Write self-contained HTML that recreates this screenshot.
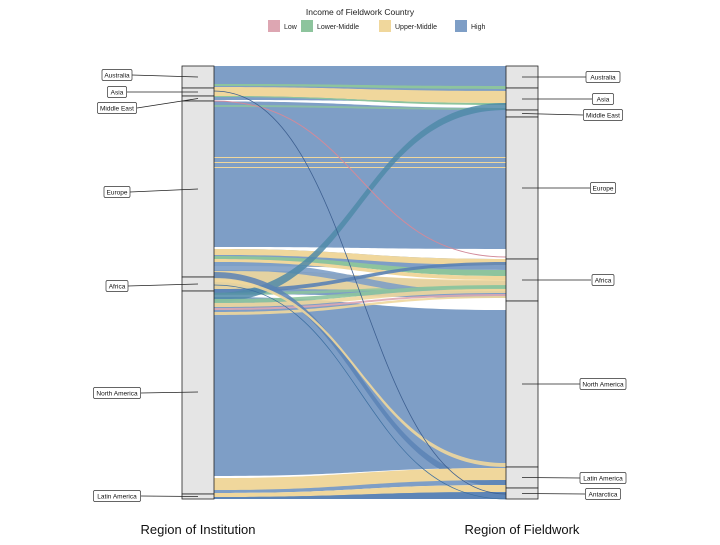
<!DOCTYPE html>
<html><head><meta charset="utf-8"><style>
body{margin:0;background:#fff;width:720px;height:540px;overflow:hidden;font-family:"Liberation Sans",sans-serif}
</style></head><body>
<svg id="s" width="720" height="540" xmlns="http://www.w3.org/2000/svg" font-family="Liberation Sans, sans-serif">
<text x="360" y="15" font-size="8.5" text-anchor="middle" fill="#222">Income of Fieldwork Country</text>
<rect x="268" y="20" width="12" height="12" fill="#dda6b2"/><text x="284" y="29" font-size="7" fill="#222">Low</text>
<rect x="301" y="20" width="12" height="12" fill="#8dc49d"/><text x="317" y="29" font-size="7" fill="#222">Lower-Middle</text>
<rect x="379" y="20" width="12" height="12" fill="#f0d79c"/><text x="395" y="29" font-size="7" fill="#222">Upper-Middle</text>
<rect x="455" y="20" width="12" height="12" fill="#7e9ec6"/><text x="471" y="29" font-size="7" fill="#222">High</text>
<g id="flows"></g>
<g id="strata"></g>
<text x="198" y="534" font-size="13" text-anchor="middle" fill="#111">Region of Institution</text>
<text x="522" y="534" font-size="13" text-anchor="middle" fill="#111">Region of Fieldwork</text>
</svg>
<script>
var NS="http://www.w3.org/2000/svg";
var C={b:"#7e9ec6",y:"#f0d79c",g:"#8dc49d",p:"#dda6b2",w:"#ffffff",t:"#4f8aa8",d:"#5a82b5"};
function rib(c,y0,y1,z0,z1,op){
 var p=document.createElementNS(NS,"path");
 p.setAttribute("d","M214,"+y0+" C360,"+y0+" 360,"+z0+" 506,"+z0+" L506,"+z1+" C360,"+z1+" 360,"+y1+" 214,"+y1+" Z");
 p.setAttribute("fill",C[c]);if(op)p.setAttribute("fill-opacity",op);
 document.getElementById("flows").appendChild(p);
}
function line(c,y,z,w){
 var p=document.createElementNS(NS,"path");
 p.setAttribute("d","M214,"+y+" C360,"+y+" 360,"+z+" 506,"+z);
 p.setAttribute("fill","none");p.setAttribute("stroke",c);p.setAttribute("stroke-width",w||0.8);
 document.getElementById("flows").appendChild(p);
}
rib("b",66,499,66,499);
rib("w",100,101.5,102,108);
rib("w",247,249,249,259);
rib("w",266,270,270,281);
rib("w",294,297,298,310);
rib("w",476,479,468,477);
rib("w",493,494,485,488);
rib("g",84,86,86,89);
rib("y",87,96,91,103);
rib("g",96,97,103,105);
rib("g",105,107,108,110,0.8);
rib("y",157,158,157,158);rib("y",162,163,162,163);rib("y",167,168,167,168);
rib("y",249,255,259,265);
rib("g",256,259,270,276);
rib("y",259,262,276,280);
rib("y",271,289,280,291,0.9);
rib("g",292,295,286,288,0.85);
rib("b",262,270,292,298,0.9);
rib("d",289,293,262,265,0.9);
rib("t",293,302,103,110,0.85);
rib("g",299,303,285,289,0.9);
rib("y",303,307,289,293,0.9);
rib("p",308,310,294,296,0.9);
rib("y",312,315,296,298,0.9);
rib("d",272,278,480,487,0.85);
rib("y",279,282,463,467,0.9);
rib("y",478,490,468,480);
rib("y",493,497,485,492);
rib("d",497,499,492,499,0.9);
line("#d28a9a",101,257,1);
line("#3d5f90",91,494,0.8);
line("#3d6fa0",285,499,0.7);
// strata
var st=document.getElementById("strata");
function rect(x,y,h){var r=document.createElementNS(NS,"rect");r.setAttribute("x",x);r.setAttribute("y",y);r.setAttribute("width",32);r.setAttribute("height",h);r.setAttribute("fill","#e5e5e5");r.setAttribute("stroke","#222");r.setAttribute("stroke-width","0.8");st.appendChild(r);}
[[66,88],[88,96],[96,101],[101,277],[277,291],[291,494],[494,499]].forEach(function(a){rect(182,a[0],a[1]-a[0]);});
[[66,88],[88,110],[110,117],[117,259],[259,301],[301,467],[467,488],[488,499]].forEach(function(a){rect(506,a[0],a[1]-a[0]);});
function lab(t,cx,y,w,lx1,lx2,ly){
 var l=document.createElementNS(NS,"path");l.setAttribute("d","M"+lx1+","+y+" L"+lx2+","+ly);l.setAttribute("stroke","#222");l.setAttribute("stroke-width","0.8");st.appendChild(l);
 var r=document.createElementNS(NS,"rect");r.setAttribute("x",cx-w/2);r.setAttribute("y",y-5.5);r.setAttribute("width",w);r.setAttribute("height",11);r.setAttribute("rx",1.5);r.setAttribute("fill","#fff");r.setAttribute("stroke","#333");r.setAttribute("stroke-width","0.7");st.appendChild(r);
 var tx=document.createElementNS(NS,"text");tx.setAttribute("x",cx);tx.setAttribute("y",y+2.5);tx.setAttribute("font-size","6.5");tx.setAttribute("text-anchor","middle");tx.setAttribute("fill","#111");tx.textContent=t;st.appendChild(tx);
}
lab("Australia",117,75,30,132,198,77);
lab("Asia",117,92,19,127,198,92);
lab("Middle East",117,108,39,137,198,98.5);
lab("Europe",117,192,26,130,198,189);
lab("Africa",117,286,22,128,198,284);
lab("North America",117,393,47,141,198,392);
lab("Latin America",117,496,47,141,198,496.5);
lab("Australia",603,77,34,586,522,77);
lab("Asia",603,99,21,592,522,99);
lab("Middle East",603,115,39,583,522,113.5);
lab("Europe",603,188,25,590,522,188);
lab("Africa",603,280,22,591,522,280);
lab("North America",603,384,46,580,522,384);
lab("Latin America",603,478,46,580,522,477.5);
lab("Antarctica",603,494,35,585,522,493.5);
</script>
</body></html>
